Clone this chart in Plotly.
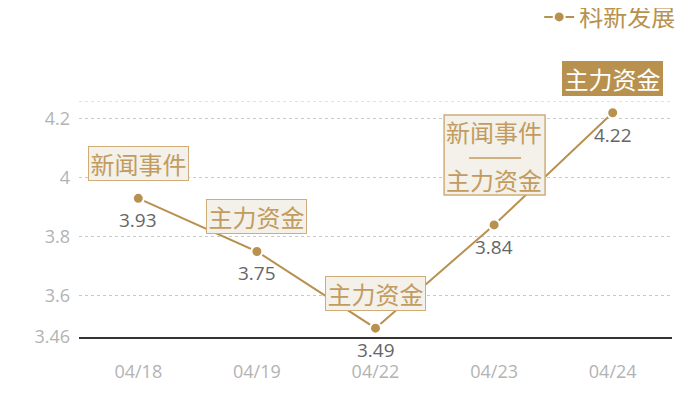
import plotly.graph_objects as go

# data
dates = ['04/18', '04/19', '04/22', '04/23', '04/24']
prices = [3.93, 3.75, 3.49, 3.84, 4.22]
series_name = '科新发展'
events = [['新闻事件'], ['主力资金'], ['主力资金'], ['新闻事件', '主力资金'], ['主力资金']]
y_ticks = [3.46, 3.6, 3.8, 4, 4.2]
y_top = 4.26

gold = '#b8914f'
box_fill = '#f4f0ea'
box_line = '#d0ad78'
box_text = '#c29c5e'
cjk = 'Noto Sans CJK SC, sans-serif'
num = 'Open Sans, sans-serif'

fig = go.Figure()
fig.add_trace(go.Scatter(
    x=dates, y=prices, name=series_name,
    mode='lines+markers',
    line=dict(color=gold, width=2),
    marker=dict(color=gold, size=11, line=dict(color='white', width=2)),
    cliponaxis=False,
))

# value labels under the points
for d, v in zip(dates, prices):
    fig.add_annotation(x=d, y=v, text=f'{v:.2f}', showarrow=False,
                       yanchor='middle', yshift=-22,
                       font=dict(size=19, color='#666666', family=num))

# event boxes above the points
for i, (d, v, ev) in enumerate(zip(dates, prices, events)):
    last = i == len(dates) - 1
    if len(ev) == 1:
        fig.add_annotation(
            x=d, y=v, text=ev[0], showarrow=False,
            yanchor='bottom', yshift=17, width=97, height=31,
            font=dict(size=24, color='white' if last else box_text, family=cjk),
            bgcolor=gold if last else box_fill,
            bordercolor=gold if last else box_line,
            borderwidth=1, borderpad=1,
        )
    else:
        fig.add_shape(type='rect', xref='x', yref='y',
                      xsizemode='pixel', ysizemode='pixel', xanchor=d, yanchor=v,
                      x0=-50, x1=51, y0=30, y1=110,
                      fillcolor=box_fill, line=dict(color=box_line, width=1.5), layer='above')
        fig.add_shape(type='line', xref='x', yref='y',
                      xsizemode='pixel', ysizemode='pixel', xanchor=d, yanchor=v,
                      x0=-25, x1=27, y0=67, y1=67,
                      line=dict(color=box_text, width=1.5), layer='above')
        for txt, shift in zip(ev, [93, 45]):
            fig.add_annotation(x=d, y=v, text=txt, showarrow=False,
                               yanchor='middle', yshift=shift,
                               font=dict(size=24, color=box_text, family=cjk))

# dotted line along the top of the plot
fig.add_shape(type='line', xref='paper', yref='y', x0=0, x1=1, y0=y_top, y1=y_top,
              line=dict(color='#c8c8c8', width=1, dash='dot'), layer='below')

fig.update_layout(
    width=684, height=384,
    margin=dict(l=71, r=20, t=93, b=55, autoexpand=False),
    paper_bgcolor='white', plot_bgcolor='white',
    font=dict(family=cjk),
    showlegend=True,
    legend=dict(x=0.776, xanchor='left', y=1.45, yanchor='top',
                font=dict(size=24, color=gold, family=cjk), bgcolor='rgba(0,0,0,0)'),
)
fig.update_xaxes(
    range=[-0.5, 4.5], showgrid=False,
    showline=True, linecolor='#333333', linewidth=1.5,
    ticks='', tickfont=dict(size=18, color='#b3b3b3', family=num),
    ticklabelstandoff=18,
)
fig.update_yaxes(
    range=[3.46, y_top], tickvals=y_ticks,
    showgrid=True, gridcolor='#c8c8c8', griddash='dot', gridwidth=1,
    zeroline=False, ticks='', tickfont=dict(size=18, color='#b3b3b3', family=num),
    ticklabelstandoff=8,
)

fig.write_html('out.html')
